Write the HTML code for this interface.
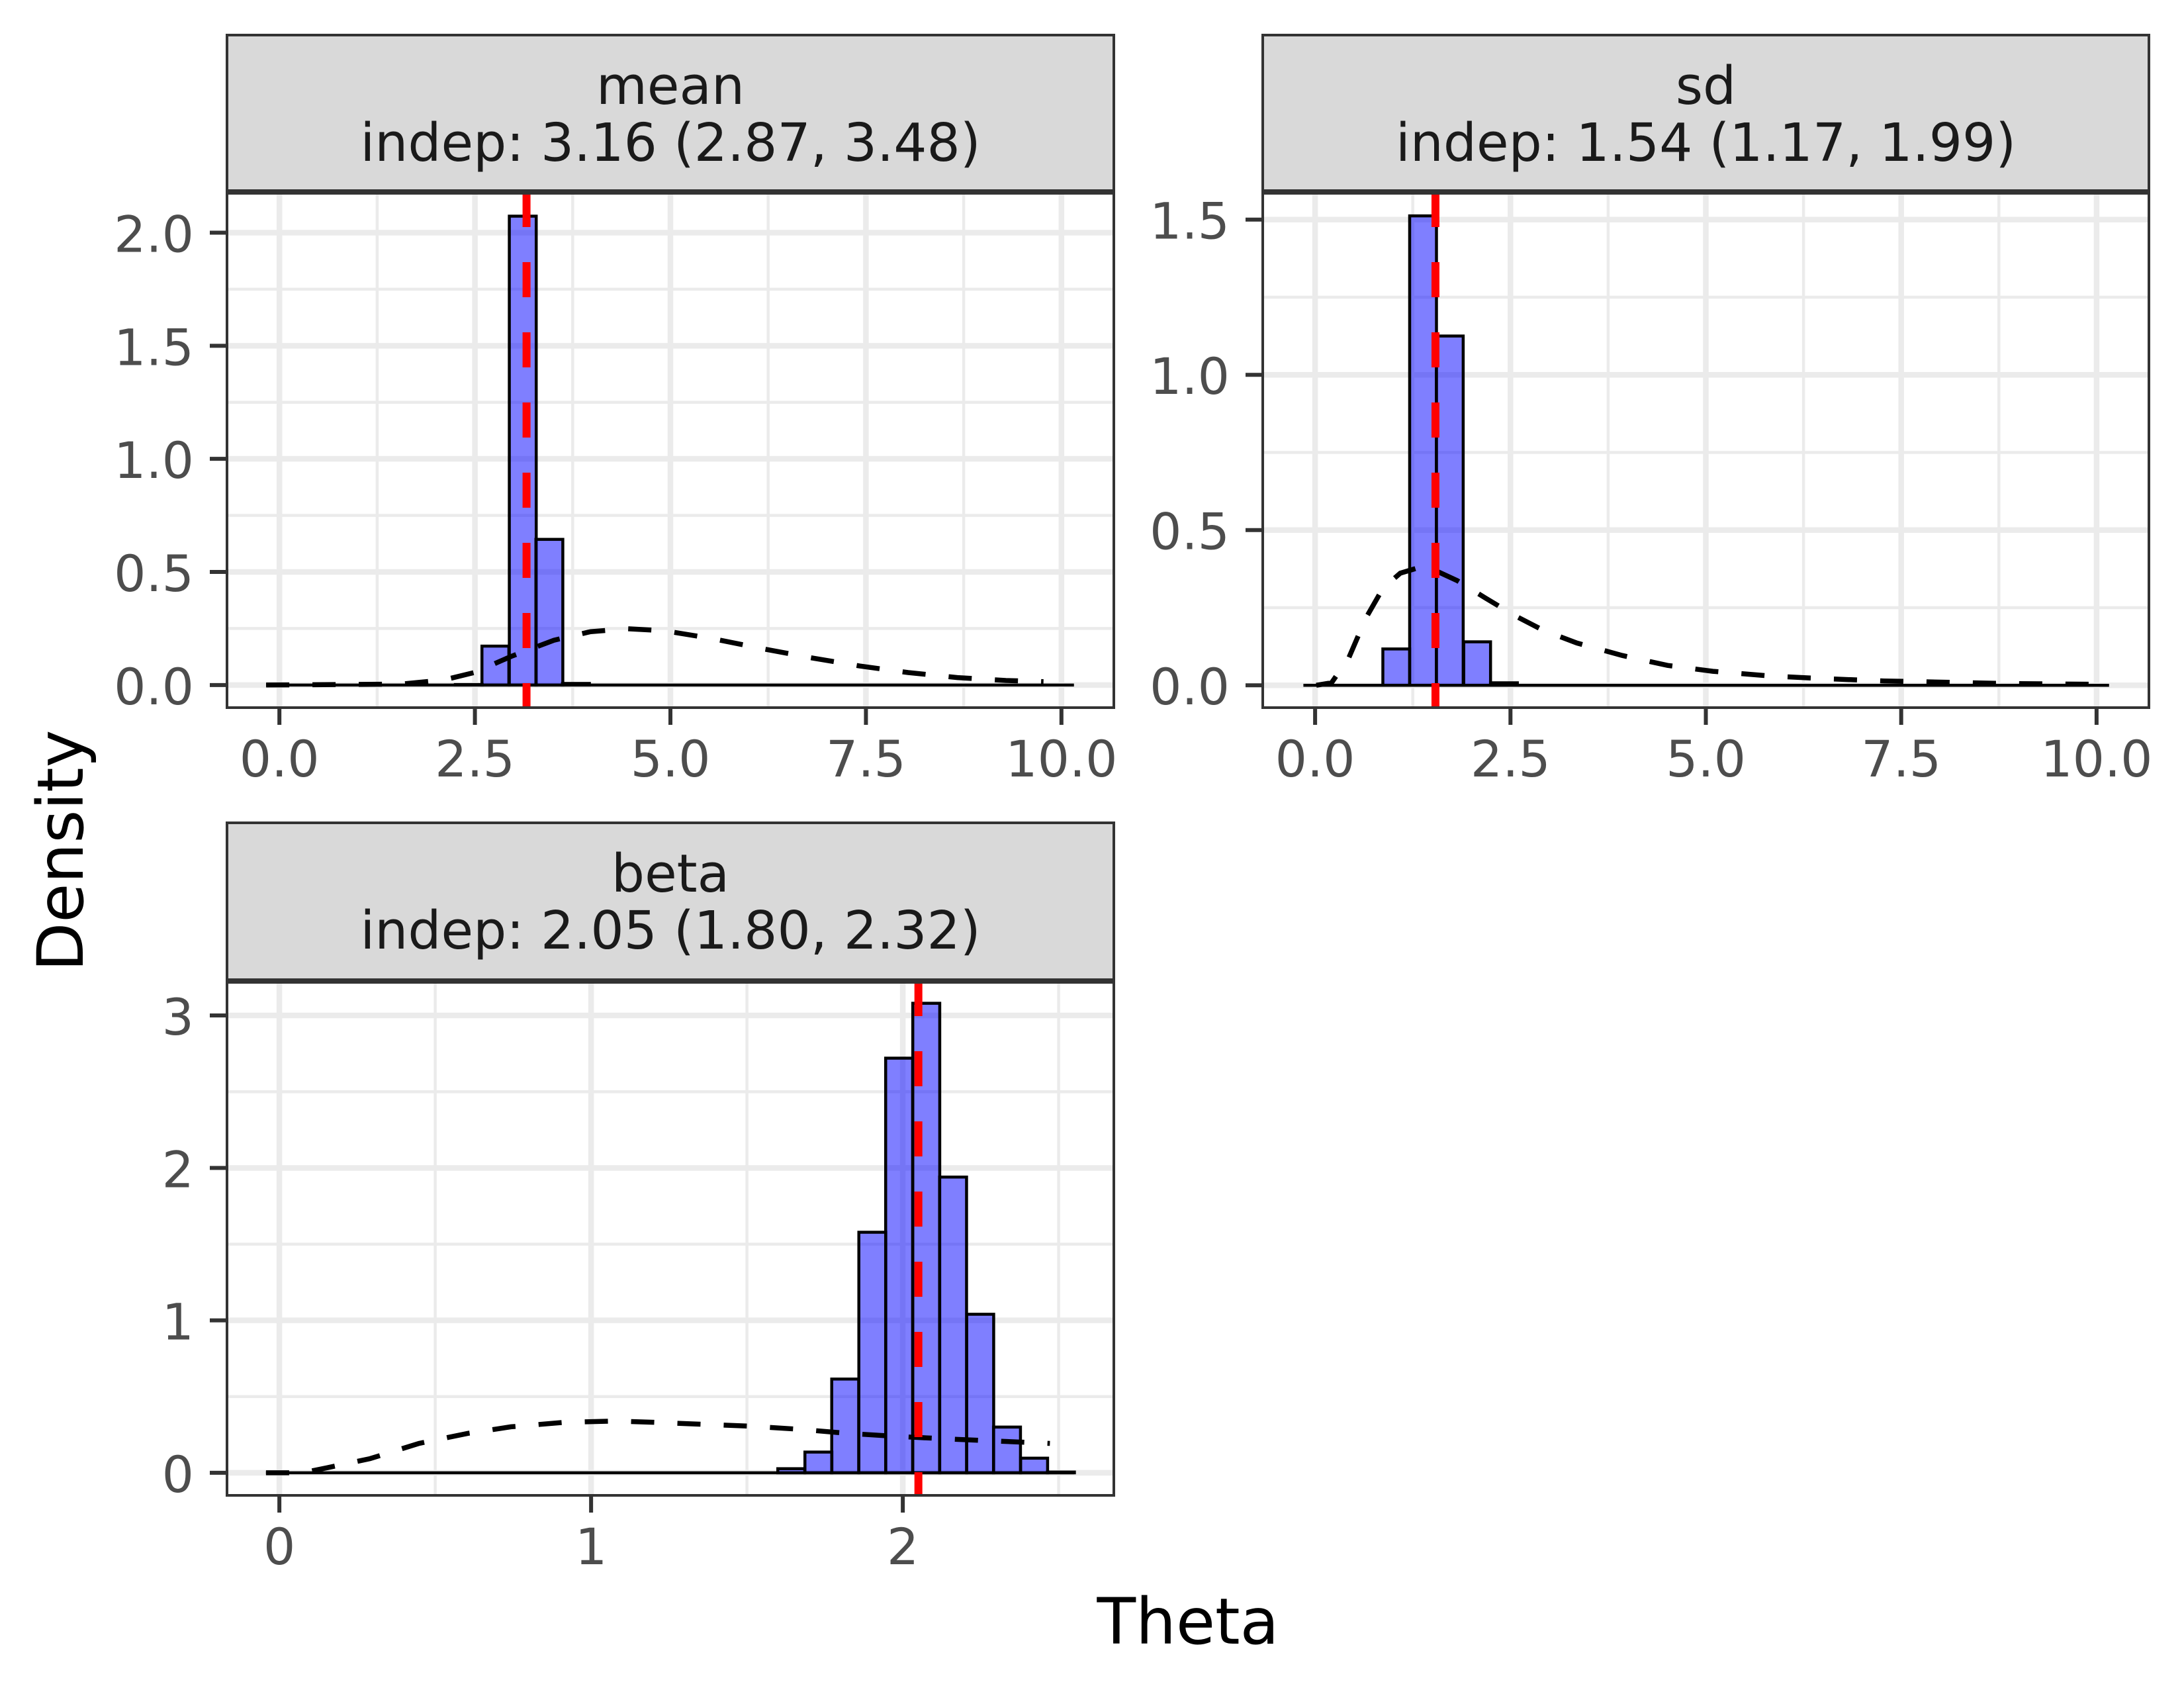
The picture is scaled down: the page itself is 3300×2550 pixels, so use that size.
<!DOCTYPE html>
<html><head><meta charset="utf-8"><style>
html,body{margin:0;padding:0;background:#fff;}
svg{display:block;font-family:"DejaVu Sans","Liberation Sans",sans-serif;}
</style></head><body>
<svg id="chart" width="3300" height="2550" viewBox="0 0 3300 2550" xmlns="http://www.w3.org/2000/svg">
<rect width="3300" height="2550" fill="#fff"/>
<text x="0" y="0" transform="translate(125,1285) rotate(-90)" font-size="96" text-anchor="middle" fill="#000">Density</text>
<text x="1795" y="2483" font-size="96" text-anchor="middle" fill="#000">Theta</text>
</svg>
<script>
// mean panel data
const meanBinStart = [2.25, 2.59, 2.94, 3.28, 3.62];
const meanBinWidth = 0.344;
const meanHeights = [0.002, 0.172, 2.073, 0.644, 0.007];
const meanEstimate = 3.16;
const meanPriorX = [-0.17, 1.55, 2.10, 2.49, 2.96, 3.51, 3.98, 4.45, 4.92, 5.54, 6.17, 6.79, 7.42, 8.04, 8.67, 9.29, 9.77];
const meanPriorY = [0, 0.004, 0.022, 0.055, 0.126, 0.198, 0.236, 0.249, 0.240, 0.205, 0.161, 0.121, 0.084, 0.055, 0.033, 0.020, 0.015];
const meanXTicks = [0, 2.5, 5, 7.5, 10];
const meanXTickLabels = ["0.0", "2.5", "5.0", "7.5", "10.0"];
const meanYTicks = [0, 0.5, 1, 1.5, 2];
const meanYTickLabels = ["0.0", "0.5", "1.0", "1.5", "2.0"];
// sd panel data
const sdBinStart = [0.867, 1.210, 1.552, 1.902, 2.245];
const sdBinWidth = 0.343;
const sdHeights = [0.117, 1.512, 1.125, 0.140, 0.008];
const sdEstimate = 1.54;
const sdPriorX = [0.015, 0.21, 0.43, 0.65, 0.87, 1.09, 1.30, 1.52, 1.82, 2.18, 2.55, 2.92, 3.35, 3.93, 4.51, 5.09, 5.82, 6.55, 7.28, 8.01, 8.75, 10.0];
const sdPriorY = [0, 0.008, 0.088, 0.217, 0.313, 0.361, 0.377, 0.372, 0.337, 0.281, 0.225, 0.177, 0.136, 0.096, 0.064, 0.045, 0.030, 0.021, 0.014, 0.010, 0.006, 0.003];
const sdXTicks = [0, 2.5, 5, 7.5, 10];
const sdXTickLabels = ["0.0", "2.5", "5.0", "7.5", "10.0"];
const sdYTicks = [0, 0.5, 1, 1.5];
const sdYTickLabels = ["0.0", "0.5", "1.0", "1.5"];
// beta panel data
const betaBinStart = [1.599, 1.686, 1.772, 1.859, 1.945, 2.032, 2.118, 2.205, 2.291, 2.378, 2.464];
const betaBinWidth = 0.0865;
const betaHeights = [0.027, 0.136, 0.615, 1.578, 2.72, 3.08, 1.94, 1.04, 0.30, 0.096, 0.005];
const betaEstimate = 2.05;
const betaPriorX = [-0.043, 0.075, 0.153, 0.291, 0.448, 0.605, 0.743, 0.919, 1.076, 1.194, 1.351, 1.508, 1.666, 1.823, 1.980, 2.137, 2.295, 2.472];
const betaPriorY = [0, 0, 0.033, 0.093, 0.193, 0.259, 0.302, 0.332, 0.339, 0.332, 0.319, 0.306, 0.286, 0.259, 0.239, 0.223, 0.209, 0.193];
const betaXTicks = [0, 1, 2];
const betaXTickLabels = ["0", "1", "2"];
const betaYTicks = [0, 1, 2, 3];
const betaYTickLabels = ["0", "1", "2", "3"];

const NS = "http://www.w3.org/2000/svg";
const svg = document.getElementById("chart");
function mk(tag, attrs, parent) {
  const e = document.createElementNS(NS, tag);
  for (const k in attrs) e.setAttribute(k, attrs[k]);
  (parent || svg).appendChild(e);
  return e;
}

function drawPanel(p) {
  const g = mk("g", {});
  
  
  const sx = v => p.x0 + (v - p.xmin) / (p.xmax - p.xmin) * (p.x1 - p.x0);
  const sy = v => p.y1 - (v - p.ymin) / (p.ymax - p.ymin) * (p.y1 - p.y0);
  mk("rect", {x: p.x0, y: p.y0, width: p.x1 - p.x0, height: p.y1 - p.y0, fill: "#fff"}, g);
  p.xMinor.forEach(v => { const l = mk("line", {x1: sx(v), x2: sx(v), y1: p.y0, y2: p.y1, stroke: "#EBEBEB", "stroke-width": 4.5}, g);
      });
  p.yMinor.forEach(v => { const l = mk("line", {x1: p.x0, x2: p.x1, y1: sy(v), y2: sy(v), stroke: "#EBEBEB", "stroke-width": 4.5}, g);
      });
  p.xTicks.forEach(v => { const l = mk("line", {x1: sx(v), x2: sx(v), y1: p.y0, y2: p.y1, stroke: "#EBEBEB", "stroke-width": 8.5}, g);
      });
  p.yTicks.forEach(v => { const l = mk("line", {x1: p.x0, x2: p.x1, y1: sy(v), y2: sy(v), stroke: "#EBEBEB", "stroke-width": 8.5}, g);
      });
  const bl = mk("line", {x1: sx(p.baseFrom), x2: sx(p.baseTo), y1: sy(0), y2: sy(0), stroke: "#000", "stroke-width": 4.5}, g);
   
  p.binStart.forEach((b, i) => {
    const h = p.heights[i];
    const r = mk("rect", {x: sx(b), y: sy(h), width: sx(b + p.binWidth) - sx(b), height: sy(0) - sy(h), fill: "rgba(0,0,255,0.5)", stroke: "#000", "stroke-width": 4.5}, g);
    
    
  });
  const d = p.priorX.map((x, i) => (i ? "L" : "M") + sx(x).toFixed(1) + "," + sy(p.priorY[i]).toFixed(1)).join(" ");
  const c = mk("path", {d: d, fill: "none", stroke: "#000", "stroke-width": 7.5, "stroke-dasharray": "35 35"}, g);
   
  const rl = mk("line", {x1: sx(p.est), x2: sx(p.est), y1: p.y0, y2: p.y1, stroke: "#FF0000", "stroke-width": 12, "stroke-dasharray": "53 53"}, g);
   
  mk("rect", {x: p.x0, y: p.y0, width: p.x1 - p.x0, height: p.y1 - p.y0, fill: "none", stroke: "#333", "stroke-width": 4}, g);
  const s = mk("rect", {x: p.x0, y: p.sy0, width: p.x1 - p.x0, height: p.y0 - p.sy0, fill: "#D9D9D9", stroke: "#333", "stroke-width": 4}, g);
   
  mk("line", {x1: p.x0, x2: p.x1, y1: p.y0, y2: p.y0, stroke: "#333", "stroke-width": 8}, g);
  const cx = (p.x0 + p.x1) / 2;
  const t1 = mk("text", {x: cx, y: p.sy0 + 104, "font-size": 79, "text-anchor": "middle", fill: "#1A1A1A"}, g);
  t1.textContent = p.name;
   
  const t2 = mk("text", {x: cx, y: p.sy0 + 190, "font-size": 79, "text-anchor": "middle", fill: "#1A1A1A"}, g);
  t2.textContent = p.subtitle;
   
  p.xTicks.forEach((v, i) => {
    mk("line", {x1: sx(v), x2: sx(v), y1: p.y1, y2: p.y1 + 26, stroke: "#333", "stroke-width": 6}, g);
    const t = mk("text", {x: sx(v), y: p.y1 + 104, "font-size": 76, "text-anchor": "middle", fill: "#4D4D4D"}, g);
    t.textContent = p.xTickLabels[i];
     
  });
  p.yTicks.forEach((v, i) => {
    mk("line", {x1: p.x0 - 26, x2: p.x0, y1: sy(v), y2: sy(v), stroke: "#333", "stroke-width": 6}, g);
    const t = mk("text", {x: p.x0 - 50, y: sy(v) + 29, "font-size": 76, "text-anchor": "end", fill: "#4D4D4D"}, g);
    t.textContent = p.yTickLabels[i];
     
  });
}

drawPanel({name: "mean", subtitle: "indep: 3.16 (2.87, 3.48)", x0: 343, x1: 1683, y0: 290, y1: 1069, sy0: 53,
  xmin: -0.67, xmax: 10.67, ymin: -0.1, ymax: 2.18,
  xTicks: meanXTicks, xTickLabels: meanXTickLabels, yTicks: meanYTicks, yTickLabels: meanYTickLabels,
  xMinor: [1.25, 3.75, 6.25, 8.75], yMinor: [0.25, 0.75, 1.25, 1.75],
  binStart: meanBinStart, binWidth: meanBinWidth, heights: meanHeights, est: meanEstimate,
  priorX: meanPriorX, priorY: meanPriorY, baseFrom: -0.17, baseTo: 10.16});
drawPanel({name: "sd", subtitle: "indep: 1.54 (1.17, 1.99)", x0: 1908, x1: 3247, y0: 290, y1: 1069, sy0: 53,
  xmin: -0.67, xmax: 10.67, ymin: -0.072, ymax: 1.589,
  xTicks: sdXTicks, xTickLabels: sdXTickLabels, yTicks: sdYTicks, yTickLabels: sdYTickLabels,
  xMinor: [1.25, 3.75, 6.25, 8.75], yMinor: [0.25, 0.75, 1.25],
  binStart: sdBinStart, binWidth: sdBinWidth, heights: sdHeights, est: sdEstimate,
  priorX: sdPriorX, priorY: sdPriorY, baseFrom: -0.15, baseTo: 10.16});
drawPanel({name: "beta", subtitle: "indep: 2.05 (1.80, 2.32)", x0: 343, x1: 1683, y0: 1482, y1: 2259, sy0: 1243,
  xmin: -0.168, xmax: 2.677, ymin: -0.148, ymax: 3.226,
  xTicks: betaXTicks, xTickLabels: betaXTickLabels, yTicks: betaYTicks, yTickLabels: betaYTickLabels,
  xMinor: [0.5, 1.5, 2.5], yMinor: [0.5, 1.5, 2.5],
  binStart: betaBinStart, binWidth: betaBinWidth, heights: betaHeights, est: betaEstimate,
  priorX: betaPriorX, priorY: betaPriorY, baseFrom: -0.043, baseTo: 2.55});
</script>
</body></html>
